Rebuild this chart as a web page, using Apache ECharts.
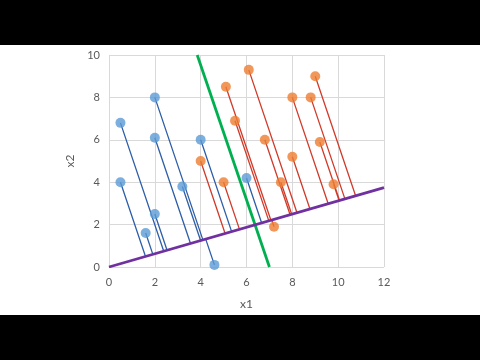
<!DOCTYPE html>
<html><head><meta charset="utf-8">
<script src="https://cdn.jsdelivr.net/npm/echarts@6/dist/echarts.min.js"></script>
<style>
html,body{margin:0;padding:0;background:#000;width:480px;height:360px;overflow:hidden}
#c{position:absolute;left:0;top:45px;width:480px;height:270px;background:#fff}
</style></head><body><div id="c"></div>
<script>
// Data
const blueX = [0.5, 0.5, 2.0, 2.0, 2.0, 1.6, 3.2, 4.0, 4.6, 6.0];
const blueY = [6.8, 4.0, 8.0, 6.1, 2.5, 1.6, 3.8, 6.0, 0.1, 4.2];
const orangeX = [4.0, 5.1, 5.5, 6.1, 5.0, 6.8, 7.5, 7.2, 8.0, 8.0, 8.8, 9.0, 9.2, 9.8];
const orangeY = [5.0, 8.5, 6.9, 9.3, 4.0, 6.0, 4.0, 1.9, 8.0, 5.2, 8.0, 9.0, 5.9, 3.9];
const projSlope = 0.312;           // purple projection direction y = m*x
const purpleLine = [[0, 0], [12, 3.74]];
const greenLine = [[3.85, 10], [7.0, 0]];
const xTicks = [0, 2, 4, 6, 8, 10, 12];
const yTicks = [0, 2, 4, 6, 8, 10];

function proj(x, y) {
  const t = (x + projSlope * y) / (1 + projSlope * projSlope);
  return [t, projSlope * t];
}
function segData(xs, ys) {
  const d = [];
  xs.forEach((x, i) => {
    if (i) d.push('-');
    d.push([x, ys[i]]);
    d.push(proj(x, ys[i]));
  });
  return d;
}
const font = 'Lato, "Noto Sans", sans-serif';
const chart = echarts.init(document.getElementById('c'));
chart.setOption({
  animation: false,
  backgroundColor: '#fff',
  grid: {left: 109, right: 96, top: 10, bottom: 47},
  xAxis: {
    type: 'value', min: xTicks[0], max: xTicks[xTicks.length - 1], interval: 2,
    name: 'x1', nameLocation: 'middle', nameGap: 31,
    nameTextStyle: {color: '#595959', fontSize: 12, fontFamily: font},
    axisLine: {show: false}, axisTick: {show: false},
    axisLabel: {color: '#595959', fontSize: 11, fontFamily: font, margin: 10},
    splitLine: {lineStyle: {color: '#d9d9d9', width: 1}}
  },
  yAxis: {
    type: 'value', min: yTicks[0], max: yTicks[yTicks.length - 1], interval: 2,
    name: 'x2', nameLocation: 'middle', nameGap: 25, nameRotate: 90,
    nameTextStyle: {color: '#595959', fontSize: 12, fontFamily: font},
    axisLine: {show: false}, axisTick: {show: false},
    axisLabel: {color: '#595959', fontSize: 11, fontFamily: font, margin: 9},
    splitLine: {lineStyle: {color: '#d9d9d9', width: 1}}
  },
  series: [
    {type: 'line', data: segData(blueX, blueY), symbol: 'none', connectNulls: false,
     lineStyle: {color: '#2e5ea8', width: 1.3}, z: 2},
    {type: 'line', data: segData(orangeX, orangeY), symbol: 'none', connectNulls: false,
     lineStyle: {color: '#d03b2a', width: 1.3}, z: 2},
    {type: 'line', data: greenLine, symbol: 'none', lineStyle: {color: '#00b050', width: 2.8}, z: 3},
    {type: 'line', data: purpleLine, symbol: 'none', lineStyle: {color: '#7030a0', width: 2.8}, z: 3},
    {type: 'scatter', data: blueX.map((x, i) => [x, blueY[i]]), symbolSize: 10,
     itemStyle: {color: '#5b9bd5'}, z: 5},
    {type: 'scatter', data: orangeX.map((x, i) => [x, orangeY[i]]), symbolSize: 10,
     itemStyle: {color: '#ed7d31'}, z: 5}
  ]
});
</script></body></html>
